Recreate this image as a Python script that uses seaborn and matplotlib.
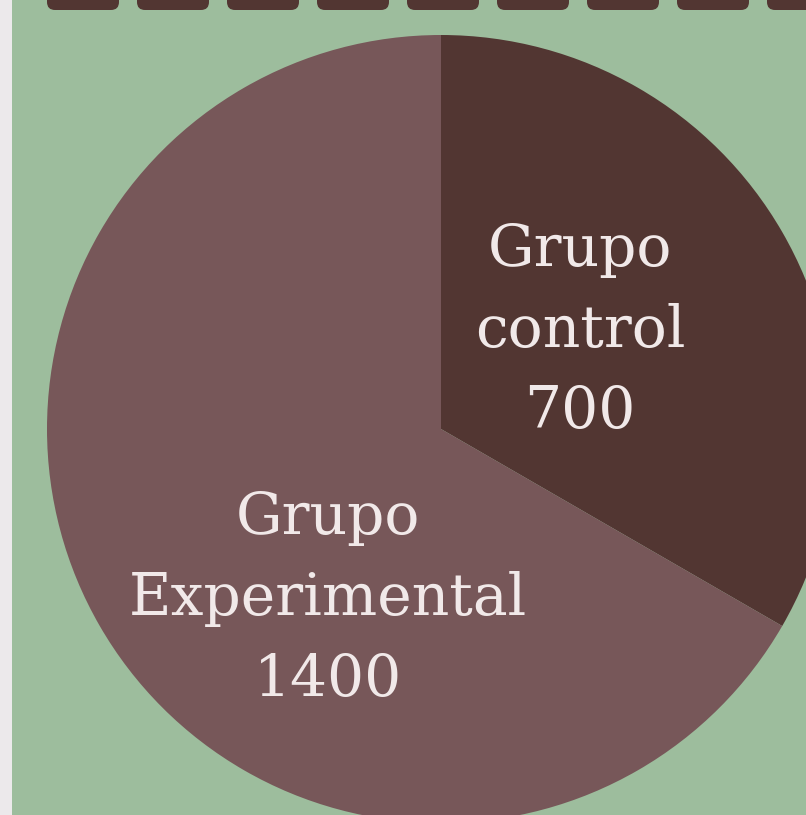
import matplotlib
matplotlib.use("Agg")
import matplotlib.pyplot as plt
from matplotlib.patches import FancyBboxPatch, Rectangle
import seaborn as sns

# data
groups = ["Grupo\ncontrol", "Grupo\nExperimental"]
counts = [700, 1400]

sns.set_theme(style="white")
plt.rcParams["font.family"] = ["DejaVu Serif", "DejaVu Sans"]

bg = "#9DBD9D"
slice_colors = ["#523632", "#775759"]
text_color = "#F1E9E9"

W, H = 806, 815
fig = plt.figure(figsize=(W / 100, H / 100), dpi=100)
fig.patch.set_facecolor(bg)
ax = fig.add_axes([0, 0, 1, 1])
ax.set_facecolor(bg)

# pie in pixel coordinates (y up)
cx, cy, r = 441, H - 429, 394
ax.pie(counts, colors=slice_colors, startangle=90, counterclock=False,
       center=(cx, cy), radius=r, wedgeprops=dict(linewidth=0))

# labels
label_pos = [(580, H - 331), (328, H - 599)]
for name, val, (x, y) in zip(groups, counts, label_pos):
    ax.text(x, y, f"{name}\n{val}", ha="center", va="center",
            color=text_color, fontsize=42, linespacing=1.56)

# light strip on the left
ax.add_patch(Rectangle((0, 0), 12, H, color="#ECE9EB", zorder=5, lw=0))

# dark tabs along the top edge
for i in range(9):
    x0 = 47 + 90 * i
    ax.add_patch(FancyBboxPatch((x0 + 8, H - 10 + 8), 72 - 16, 30,
                                boxstyle="round,pad=8", color=slice_colors[0],
                                lw=0, zorder=4))

ax.set_xlim(0, W)
ax.set_ylim(0, H)
ax.set_aspect("auto")
ax.axis("off")

fig.savefig("out.png", dpi=100, facecolor=bg)
